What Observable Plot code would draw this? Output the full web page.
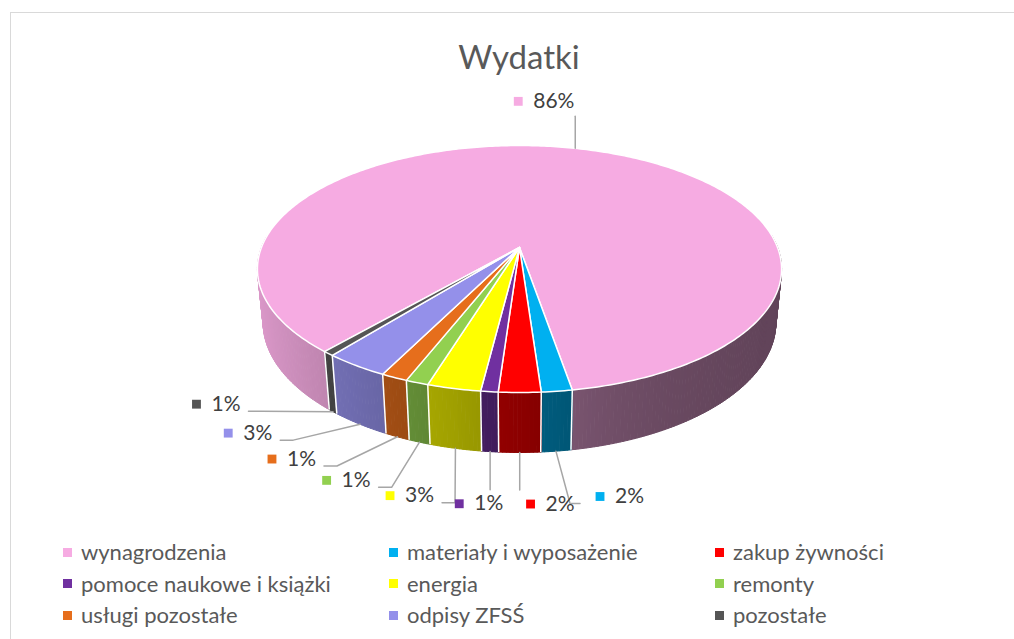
<!DOCTYPE html>
<html><head><meta charset="utf-8">
<script src="https://cdn.jsdelivr.net/npm/d3@7"></script>
<script src="https://cdn.jsdelivr.net/npm/@observablehq/plot@0.6"></script>
<style>
body{margin:0;background:#fff;font-family:Lato,"Open Sans",sans-serif;}
#wrap{position:relative;width:1014px;height:639px;overflow:hidden;background:#fff;}
#frame{position:absolute;left:10px;top:12px;width:1200px;height:800px;border-left:1px solid #d9d9d9;border-top:1px solid #d9d9d9;}
#title{position:absolute;left:0;top:36px;width:1038px;text-align:center;font-size:33px;color:#595959;line-height:40px;}
#chart{position:absolute;left:0;top:0;}
.lg{position:absolute;display:flex;align-items:center;font-size:22px;color:#595959;white-space:nowrap;line-height:26px;}
.lg i{display:inline-block;width:9px;height:9px;margin-right:9px;}
</style></head>
<body><div id="wrap"><div id="frame"></div><div id="chart"></div><div id="title"></div><div id="legend"></div></div>
<script>
const title = "Wydatki";
const categories = ["wynagrodzenia","materiały i wyposażenie","zakup żywności","pomoce naukowe i książki","energia","remonty","usługi pozostałe","odpisy ZFSŚ","pozostałe"];
const shares = [85.9, 1.6, 2.2, 0.9, 2.8, 1.2, 1.4, 3.4, 0.6];
const colors = ["#f6abe2","#00b0f0","#ff0000","#7030a0","#ffff00","#92d050","#e66e1c","#9490ea","#555555"];

const W = 1014, H = 639;
// 3D perspective parameters
const D = 5.087, SA = 0.464, CA = 0.8857, TH = 0.236, F = 1312.8, CX = 519, CY = 247;
const startDeg = 221;
const RAD = Math.PI/180;
function proj(r, deg, z){
  const t = deg*RAD, X = r*Math.sin(t), Y = r*Math.cos(t);
  const w = D + Y*CA - z*SA;
  return [CX + F*X/w, CY - F*(Y*SA + z*CA)/w, w];
}
const total = d3.sum(shares);
let acc = startDeg;
const slices = shares.map((v,i)=>{const a0=acc; acc += v/total*360; return {i, a0, a1:acc, am:(a0+acc)/2, pct:Math.round(v/total*100)};});

// side faces
const side = [];
slices.forEach(sl=>{
  const n = Math.max(1, Math.ceil((sl.a1-sl.a0)/0.75));
  for(let k=0;k<n;k++){
    const b0 = sl.a0+(sl.a1-sl.a0)*k/n, b1 = sl.a0+(sl.a1-sl.a0)*(k+1)/n, bm=(b0+b1)/2;
    if (Math.cos(bm*RAD) > 0.1) continue;
    const sn = Math.sin(bm*RAD);
    const f = sn < 0 ? 0.55 - 0.35*sn : 0.38 + 0.17*Math.exp(-sn/0.4);
    const c = d3.rgb(colors[sl.i]);
    const col = d3.rgb(c.r*f, c.g*f, c.b*f).formatHex();
    side.push({depth: proj(1,bm,0)[2], col, pts:[proj(1,b0,0),proj(1,b1,0),proj(1,b1,-TH),proj(1,b0,-TH)]});
  }
});
side.sort((a,b)=>b.depth-a.depth);
const sidePts = side.flatMap((q,j)=>q.pts.map(p=>({x:p[0],y:p[1],id:j,col:q.col})));
const bounds = slices.filter(s=>Math.cos(s.a0*RAD)<0).map(s=>{const p=proj(1,s.a0,0), q=proj(1,s.a0,-TH); return {x1:p[0],y1:p[1],x2:q[0],y2:q[1]};});

// top faces
const topPts = [];
slices.forEach(sl=>{
  const c0 = proj(0,0,0);
  topPts.push({x:c0[0],y:c0[1],id:sl.i,col:colors[sl.i]});
  const n = Math.max(2, Math.ceil((sl.a1-sl.a0)/0.8));
  for(let k=0;k<=n;k++){const p=proj(1, sl.a0+(sl.a1-sl.a0)*k/n, 0); topPts.push({x:p[0],y:p[1],id:sl.i,col:colors[sl.i]});}
});

// labels
const small = slices.filter(s=>Math.cos(s.am*RAD) < 0).sort((a,b)=>a.am-b.am);
const gap = 10, center = d3.mean(small, s=>s.am) + 4.5;
const labels = [], leaders = [];
small.forEach((s,k)=>{
  const phi = center + (k-(small.length-1)/2)*gap;
  const L = proj(1.27, phi, -TH), A = proj(1, s.am, -TH);
  const sq = L[0]-22, ly = L[1];
  labels.push({x:sq, y:ly, text:s.pct+"%", col:colors[s.i]});
  const tEnd = sq+47, tStart = sq-4;
  let pts;
  if (A[0] > tEnd+8) pts=[[tEnd+5,ly+7],[tEnd+18,ly+7],[A[0],A[1]]];
  else if (A[0] < tStart-8) pts=[[tStart-16,ly+7],[tStart-26,ly+7],[A[0],A[1]]];
  else pts=[[A[0],ly-14],[A[0],A[1]]];
  pts.forEach(p=>leaders.push({x:p[0],y:p[1],id:s.i}));
});
slices.filter(s=>Math.cos(s.am*RAD) >= 0).forEach(s=>{
  const A = proj(1, s.am-1, 0);
  labels.push({x:A[0]-57, y:A[1]-47, text:s.pct+"%", col:colors[s.i]});
  leaders.push({x:A[0],y:A[1],id:s.i},{x:A[0],y:A[1]-32,id:s.i});
});

const chart = Plot.plot({
  width: W, height: H, margin: 0,
  x: {domain:[0,W], range:[0,W], axis:null},
  y: {domain:[0,H], range:[0,H], axis:null},
  color: {type:"identity"},
  marks: [
    Plot.line(sidePts, {x:"x", y:"y", z:"id", fill:"col", stroke:"col", strokeWidth:1, curve:"linear-closed"}),
    Plot.link(bounds, {x1:"x1", y1:"y1", x2:"x2", y2:"y2", stroke:"white", strokeWidth:1.5}),
    Plot.line(topPts, {x:"x", y:"y", z:"id", fill:"col", stroke:"white", strokeWidth:1.5, strokeLinejoin:"round", curve:"linear-closed"}),
    Plot.line(leaders, {x:"x", y:"y", z:"id", stroke:"#a6a6a6", strokeWidth:1.5}),
    Plot.dot(labels, {x:"x", y:"y", symbol:"square", r:5, fill:"col", stroke:null}),
    Plot.text(labels, {x:"x", y:"y", text:"text", dx:15, textAnchor:"start", fontSize:21, fill:"#404040", fontFamily:"Lato"})
  ]
});
document.getElementById("chart").appendChild(chart);
document.getElementById("title").textContent = title;
const lg = document.getElementById("legend");
categories.forEach((c,i)=>{
  const d = document.createElement("div"); d.className="lg";
  d.style.left = (63 + (i%3)*326) + "px";
  d.style.top = (539 + Math.floor(i/3)*31.5) + "px";
  const sw = document.createElement("i"); sw.style.background = colors[i];
  d.appendChild(sw); d.appendChild(document.createTextNode(c));
  lg.appendChild(d);
});
</script></body></html>
